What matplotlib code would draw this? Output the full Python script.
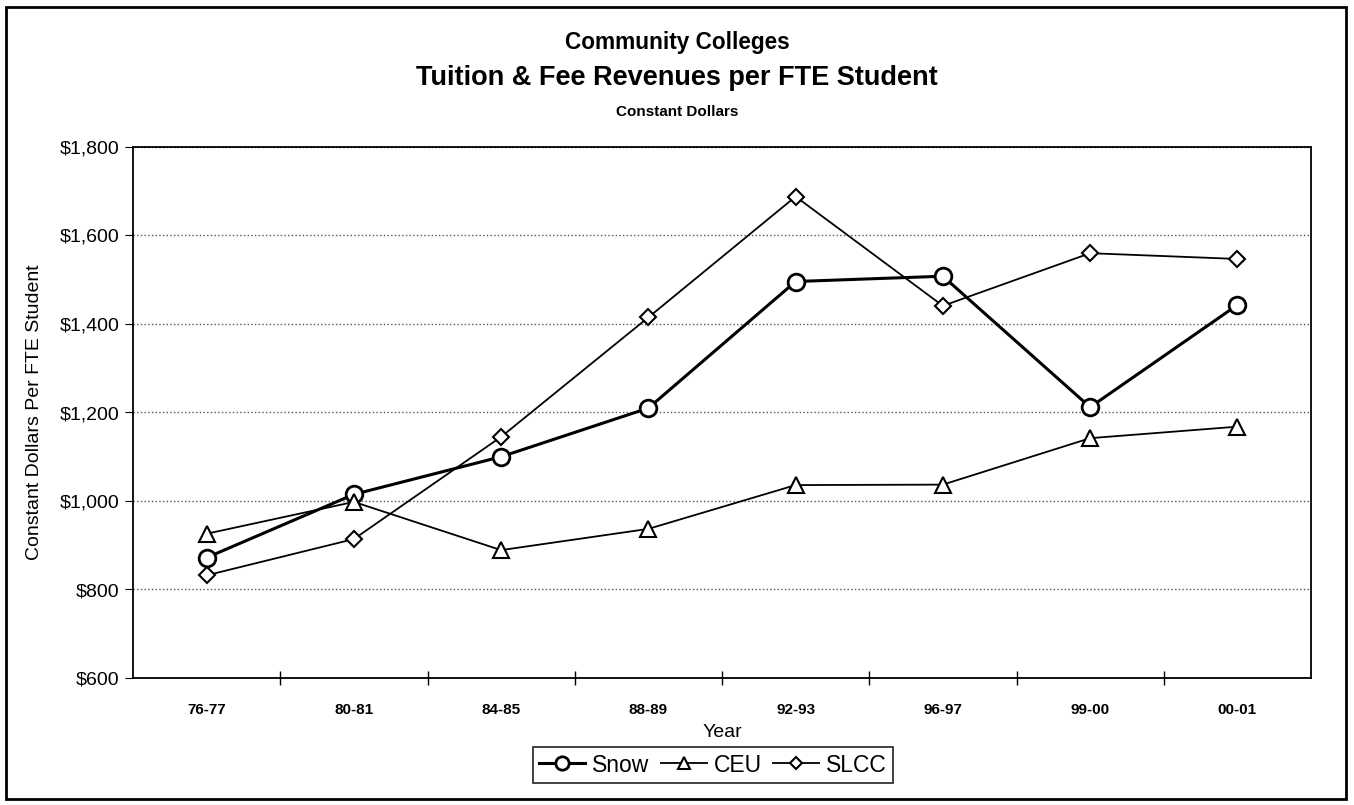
import matplotlib.pyplot as plt
from matplotlib.ticker import FuncFormatter
from matplotlib import font_manager

years = ['76-77', '80-81', '84-85', '88-89', '92-93', '96-97', '99-00', '00-01']
snow = [872, 1015, 1100, 1210, 1496, 1508, 1212, 1443]
ceu = [926, 998, 889, 937, 1036, 1037, 1142, 1168]
slcc = [832, 914, 1145, 1415, 1688, 1441, 1560, 1547]

names = {f.name for f in font_manager.fontManager.ttflist}
fam = 'Liberation Sans Narrow' if 'Liberation Sans Narrow' in names else 'Liberation Sans'
plt.rcParams['font.family'] = [fam, 'DejaVu Sans']

fig = plt.figure(figsize=(13.54, 8.05), dpi=100)
ax = fig.add_axes([133 / 1354, 1 - 678 / 805, (1311 - 133) / 1354, (678 - 147) / 805])

x = range(len(years))
ax.plot(x, snow, color='black', lw=2.2, marker='o', ms=12, mfc='white', mec='black', mew=2, label='Snow')
ax.plot(x, ceu, color='black', lw=1.3, marker='^', ms=11, mfc='white', mec='black', mew=1.5, label='CEU')
ax.plot(x, slcc, color='black', lw=1.3, marker='D', ms=8, mfc='white', mec='black', mew=1.5, label='SLCC')

ax.set_xlim(-0.5, len(years) - 0.5)
ax.set_ylim(600, 1800)
ax.set_yticks(range(600, 1801, 200))
ax.yaxis.set_major_formatter(FuncFormatter(lambda v, p: f'${v:,.0f}'))
ax.set_xticks(list(x))
ax.set_xticklabels(years, fontsize=11, fontweight='bold')
ax.set_xticks([i + 0.5 for i in range(len(years) - 1)], minor=True)
ax.tick_params(axis='x', which='major', length=0, pad=18)
ax.tick_params(axis='x', which='minor', direction='inout', length=10, width=1)
ax.tick_params(axis='y', direction='out', length=6, labelsize=14)
ax.grid(axis='y', linestyle=':', color='#555555', lw=1)

for s in ax.spines.values():
    s.set_linewidth(1.3)

ax.set_xlabel('Year', fontsize=14, labelpad=5)
ax.set_ylabel('Constant Dollars Per FTE Student', fontsize=14, labelpad=12)

fig.text(0.5, 1 - 42 / 805, 'Community Colleges', ha='center', va='center', fontsize=16.3, fontweight='bold')
fig.text(0.5, 1 - 78 / 805, 'Tuition & Fee Revenues per FTE Student', ha='center', va='center', fontsize=19.5, fontweight='bold')
fig.text(0.5, 1 - 112 / 805, 'Constant Dollars', ha='center', va='center', fontsize=11, fontweight='bold')

leg = ax.legend(loc='center', bbox_to_anchor=(713 / 1354, 1 - 765 / 805), bbox_transform=fig.transFigure,
                ncol=3, fontsize=16.5, frameon=True, fancybox=False, edgecolor='black', markerscale=0.8,
                handlelength=2.0, columnspacing=0.5, handletextpad=0.3, borderpad=0.3, borderaxespad=0)
leg.get_frame().set_linewidth(1.3)

fig.add_artist(plt.Rectangle((6 / 1354, 6 / 805), 1340 / 1354, 792 / 805, transform=fig.transFigure,
                             fill=False, edgecolor='black', lw=2))

fig.savefig('out.png', dpi=100)
